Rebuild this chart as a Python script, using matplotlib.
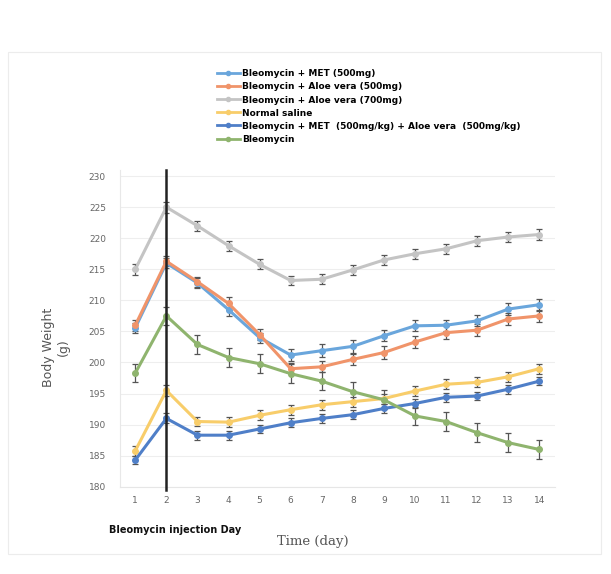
import matplotlib.pyplot as plt
from matplotlib.patches import Rectangle
from matplotlib.lines import Line2D

days = list(range(1, 15))

met = [205.6, 216.0, 212.8, 208.5, 204.0, 201.2, 201.9, 202.6, 204.3, 205.9, 206.0, 206.7, 208.6, 209.3]
met_err = [0.8, 0.8, 0.8, 1.0, 0.8, 1.0, 1.0, 1.0, 0.9, 0.9, 0.9, 0.9, 0.9, 1.0]
aloe500 = [206.0, 216.3, 213.0, 209.5, 204.5, 199.0, 199.3, 200.5, 201.6, 203.3, 204.8, 205.2, 207.0, 207.5]
aloe500_err = [0.9, 0.8, 0.8, 1.0, 0.9, 0.9, 0.9, 0.9, 1.0, 1.0, 1.0, 1.0, 1.0, 1.0]
aloe700 = [215.0, 225.0, 222.0, 218.8, 215.8, 213.2, 213.4, 214.9, 216.5, 217.5, 218.3, 219.6, 220.2, 220.6]
aloe700_err = [0.9, 0.9, 0.8, 0.8, 0.8, 0.8, 0.8, 0.8, 0.8, 0.8, 0.8, 0.8, 0.8, 0.9]
saline = [185.8, 195.5, 190.5, 190.4, 191.5, 192.4, 193.2, 193.7, 194.2, 195.4, 196.5, 196.8, 197.7, 199.0]
saline_err = [0.8, 0.9, 0.8, 0.8, 0.8, 0.8, 0.8, 0.8, 0.8, 0.8, 0.8, 0.8, 0.8, 0.8]
combo = [184.3, 191.0, 188.3, 188.3, 189.3, 190.3, 191.0, 191.6, 192.6, 193.4, 194.4, 194.6, 195.7, 197.0]
combo_err = [0.7, 0.8, 0.7, 0.7, 0.7, 0.7, 0.7, 0.7, 0.7, 0.7, 0.7, 0.7, 0.7, 0.7]
bleo = [198.3, 207.5, 202.9, 200.8, 199.8, 198.2, 197.0, 195.3, 194.0, 191.4, 190.5, 188.7, 187.1, 186.0]
bleo_err = [1.5, 1.5, 1.5, 1.5, 1.5, 1.5, 1.5, 1.5, 1.5, 1.5, 1.5, 1.5, 1.5, 1.5]

labels = ['Bleomycin + MET (500mg)',
          'Bleomycin + Aloe vera (500mg)',
          'Bleomycin + Aloe vera (700mg)',
          'Normal saline',
          'Bleomycin + MET  (500mg/kg) + Aloe vera  (500mg/kg)',
          'Bleomycin']
colors = ['#6aa6dc', '#f0946a', '#c4c4c4', '#f8cd6a', '#4f7fc8', '#8fb46e']
series = [met, aloe500, aloe700, saline, combo, bleo]
errs = [met_err, aloe500_err, aloe700_err, saline_err, combo_err, bleo_err]

fig = plt.figure(figsize=(6.11, 5.74), dpi=100)
fig.patches.append(Rectangle((0.013, 0.035), 0.97, 0.875, transform=fig.transFigure,
                             fill=False, edgecolor='#ececec', lw=0.8))
ax = fig.add_axes([0.196, 0.152, 0.712, 0.552])

handles = []
for y, e, c, lab in zip(series, errs, colors, labels):
    ax.errorbar(days, y, yerr=e, color=c, lw=2.2, marker='o', ms=4,
                ecolor='#555555', elinewidth=0.9, capsize=2.5, capthick=0.9, zorder=3)
    handles.append(Line2D([], [], color=c, lw=2, marker='o', ms=3, label=lab))

ax.axvline(2, ymin=-0.01, ymax=1.0, color='#222222', lw=1.8, zorder=4, clip_on=False)

ax.set_xlim(0.5, 14.5)
ax.set_ylim(180, 231)
ax.set_xticks(days)
ax.set_yticks(range(180, 231, 5))
ax.tick_params(labelsize=6.5, colors='#666666', length=0, pad=7)
ax.tick_params(axis='y', pad=10)
ax.grid(axis='y', color='#eeeeee', lw=0.8)
for s in ['top', 'right']:
    ax.spines[s].set_visible(False)
ax.spines['left'].set_color('#e8e8e8')
ax.spines['bottom'].set_color('#e6e6e6')

fig.text(0.512, 0.056, 'Time (day)', family='DejaVu Serif', fontsize=9.5, color='#555555',
         ha='center', va='center')
fig.text(0.092, 0.395, 'Body Weight\n(g)', rotation=90, fontsize=9, color='#555555',
         ha='center', va='center', multialignment='center')

fig.text(0.178, 0.071, 'Bleomycin injection Day', fontsize=7, weight='bold', color='#111111')

fig.legend(handles=handles, loc='upper left', bbox_to_anchor=(0.348, 0.887), frameon=False,
           prop={'size': 6.5, 'weight': 'bold'}, handlelength=2.5, labelspacing=0.45,
           handletextpad=0.3, borderpad=0)

fig.savefig('out.png', dpi=100, facecolor='white')
